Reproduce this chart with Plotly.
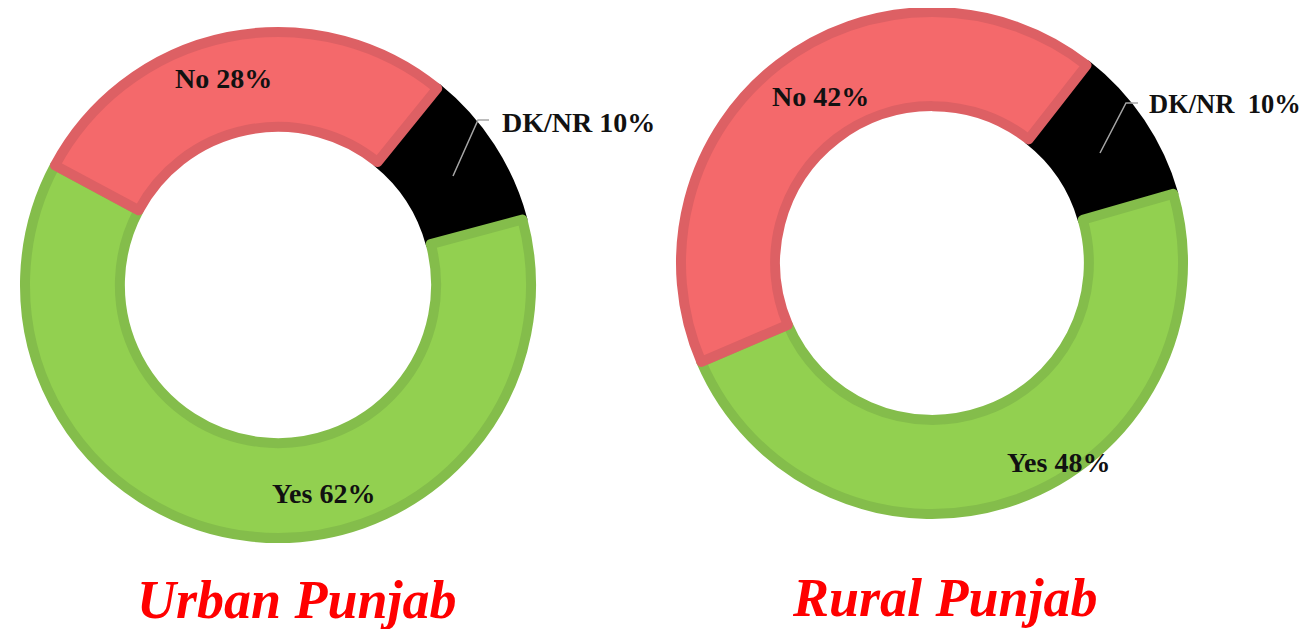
import plotly.graph_objects as go

# The page body adds an 8px margin, so the figure is drawn 8px in from the window corner.
OFF = 8
W, H = 1307 - OFF, 629 - OFF

# ---- data ----
categories = ["DK/NR", "Yes", "No"]
urban_values = [10, 62, 28]
rural_values = [10, 48, 42]
urban_labels = ["DK/NR 10%", "Yes 62%", "No 28%"]
rural_labels = ["DK/NR  10%", "Yes 48%", "No 42%"]
titles = ["Urban Punjab", "Rural Punjab"]

# ---- styles ----
fill_colors = ["#000000", "#92D050", "#F4696B"]
line_colors = ["#000000", "#84BD4B", "#DD6064"]
LINE_W = 10
HOLE = 0.625
FAMILY = "Liberation Serif, Times New Roman, serif"
TITLE_FONT = dict(family=FAMILY, size=54, color="#FF0000")

# layout geometry in window pixels: (center x, center y, path radius)
geoms = [(278, 285, 253), (932, 263, 251)]
rotations = [39, 38]
# label anchor points in window pixels (x, y, xanchor, font size)
label_pos = [
    [(500, 122, "left", 28), (323, 493, "center", 28), (224, 78, "center", 28)],
    [(1147, 104, "left", 26.5), (1058, 462, "center", 28), (820, 97, "center", 28)],
]
leaders = [
    [(453, 176), (478, 120), (489, 120)],
    [(1100, 153), (1126, 103), (1138, 103)],
]
title_pos = [(297, 600), (945, 598)]


def px(x):
    return (x - OFF) / W


def py(y):
    return 1 - (y - OFF) / H


fig = go.Figure()
for (cx, cy, r), vals, rot in zip(geoms, [urban_values, rural_values], rotations):
    fig.add_trace(go.Pie(
        labels=categories,
        values=vals,
        hole=HOLE,
        sort=False,
        direction="clockwise",
        rotation=rot,
        textinfo="none",
        hoverinfo="none",
        showlegend=False,
        marker=dict(colors=fill_colors, line=dict(color=line_colors, width=LINE_W)),
        domain=dict(x=[px(cx - r), px(cx + r)], y=[py(cy + r), py(cy - r)]),
    ))

annotations = []
for texts, poss in zip([urban_labels, rural_labels], label_pos):
    for t, (x, y, xa, fs) in zip(texts, poss):
        annotations.append(dict(
            text=f"<b>{t}</b>", x=px(x), y=py(y), xref="paper", yref="paper",
            xanchor=xa, yanchor="middle", showarrow=False,
            font=dict(family=FAMILY, size=fs, color="#111111"),
        ))
for t, (x, y) in zip(titles, title_pos):
    annotations.append(dict(
        text=f"<b><i>{t}</i></b>", x=px(x), y=py(y), xref="paper", yref="paper",
        xanchor="center", yanchor="middle", showarrow=False, font=TITLE_FONT,
    ))

shapes = []
for pts in leaders:
    path = "M " + " L ".join(f"{px(x)},{py(y)}" for x, y in pts)
    shapes.append(dict(type="path", path=path, xref="paper", yref="paper",
                       line=dict(color="#A6A6A6", width=1.5)))

fig.update_layout(
    width=W, height=H,
    margin=dict(l=0, r=0, t=0, b=0),
    paper_bgcolor="white", plot_bgcolor="white",
    annotations=annotations,
    shapes=shapes,
)

fig.write_html("out.html")
